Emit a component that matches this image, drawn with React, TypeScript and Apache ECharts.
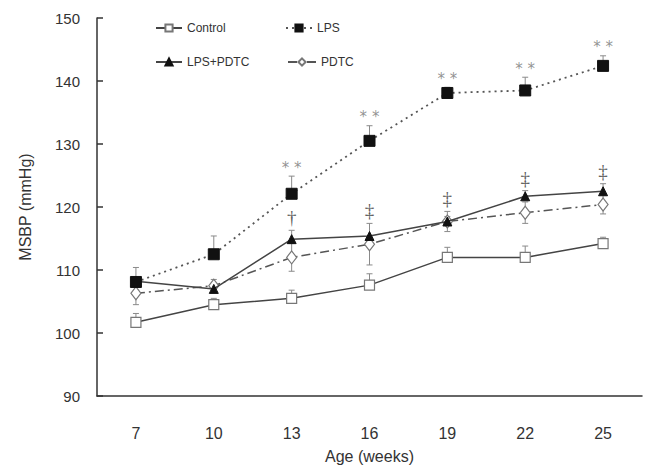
import React, { useEffect, useRef } from "react";
import * as echarts from "echarts";

const weeks = ["7", "10", "13", "16", "19", "22", "25"];
const control = [101.7, 104.5, 105.5, 107.6, 112.0, 112.0, 114.2];
const controlErrUp = [1.4, 1.0, 1.3, 1.8, 1.6, 1.8, 1.0];
const lps = [108.1, 112.5, 122.1, 130.5, 138.1, 138.5, 142.4];
const lpsErrUp = [2.3, 2.9, 2.8, 2.4, 0.9, 2.1, 1.6];
const lpsPdtc = [108.2, 107.0, 114.9, 115.4, 117.7, 121.7, 122.5];
const lpsPdtcErrUp = [0, 0.7, 1.4, 0, 0.8, 0.9, 1.2];
const pdtc = [106.3, 107.5, 112.0, 114.1, 117.7, 119.1, 120.4];
const pdtcErr = [1.8, 1.0, 2.2, 3.3, 1.6, 1.7, 1.5];
const lpsSig = ["", "", "* *", "* *", "* *", "* *", "* *"];
const pdtcSig = ["", "", "†", "‡", "‡", "‡", "‡"];
const yTicks = [90, 100, 110, 120, 130, 140, 150];

const FONT = "'Liberation Sans', Arial, sans-serif";
const LINE = "#444";
const ERR = "#8a8a8a";

function errData(vals: number[], up: number[], down: number[] | null) {
  return vals.map((v, i) => [i, v - (down ? down[i] : 0), v + up[i], v]);
}

const errRender = (params: any, api: any) => {
  const x = api.value(0);
  const lo = api.coord([x, api.value(1)]);
  const hi = api.coord([x, api.value(2)]);
  const c = api.coord([x, api.value(3)]);
  const st = { stroke: ERR, lineWidth: 1 };
  const children: any[] = [];
  if (Math.abs(hi[1] - c[1]) > 0.5) {
    children.push({ type: "line", shape: { x1: c[0], y1: c[1], x2: hi[0], y2: hi[1] }, style: st });
    children.push({ type: "line", shape: { x1: hi[0] - 3, y1: hi[1], x2: hi[0] + 3, y2: hi[1] }, style: st });
  }
  if (Math.abs(lo[1] - c[1]) > 0.5) {
    children.push({ type: "line", shape: { x1: c[0], y1: c[1], x2: lo[0], y2: lo[1] }, style: st });
    children.push({ type: "line", shape: { x1: lo[0] - 3, y1: lo[1], x2: lo[0] + 3, y2: lo[1] }, style: st });
  }
  return { type: "group", children };
};

export default function App() {
  const ref = useRef<HTMLDivElement>(null);
  useEffect(() => {
    if (!ref.current) return;
    const chart = echarts.init(ref.current, null, { renderer: "svg" });

    const lpsSigData = lps.map((v, i) => ({ value: [i, v + lpsErrUp[i]], sig: lpsSig[i] }));
    const pdtcSigData = lpsPdtc.map((v, i) => ({
      value: [i, Math.max(v + lpsPdtcErrUp[i], pdtc[i] + pdtcErr[i])],
      sig: pdtcSig[i],
    }));

    const legendBase = {
      orient: "horizontal",
      itemHeight: 9,
      textStyle: { fontFamily: FONT, fontSize: 12, color: "#333" },
      selectedMode: false,
    };

    const option: any = {
      animation: false,
      backgroundColor: "#fff",
      textStyle: { fontFamily: FONT },
      legend: [
        { ...legendBase, left: 150, top: 17, itemWidth: 26, data: ["Control"] },
        { ...legendBase, left: 280, top: 17, itemWidth: 26, data: ["LPS"] },
        { ...legendBase, left: 150, top: 51, itemWidth: 26, data: ["LPS+PDTC"] },
        { ...legendBase, left: 282, top: 51, itemWidth: 28, data: ["PDTC"] },
      ],
      grid: { left: 97, right: 12, top: 18, bottom: 71 },
      xAxis: {
        type: "category",
        data: weeks,
        boundaryGap: true,
        name: "Age (weeks)",
        nameLocation: "middle",
        nameGap: 52,
        nameTextStyle: { fontFamily: FONT, fontSize: 16, color: "#333" },
        axisLine: { lineStyle: { color: "#333", width: 1.5 } },
        axisTick: { inside: true, length: 6, lineStyle: { color: "#333", width: 1.5 } },
        axisLabel: { fontFamily: FONT, fontSize: 16, color: "#333", margin: 29 },
        splitLine: { show: false },
      },
      yAxis: {
        type: "value",
        min: yTicks[0],
        max: yTicks[yTicks.length - 1],
        interval: 10,
        name: "MSBP (mmHg)",
        nameLocation: "middle",
        nameGap: 64,
        nameTextStyle: { fontFamily: FONT, fontSize: 16, color: "#333" },
        axisLine: { show: true, lineStyle: { color: "#333", width: 1.5 } },
        axisTick: { show: true, inside: true, length: 6, lineStyle: { color: "#333", width: 1.5 } },
        axisLabel: { fontFamily: FONT, fontSize: 15, color: "#333", margin: 17 },
        splitLine: { show: false },
      },
      series: [
        { type: "custom", name: "errC", renderItem: errRender, data: errData(control, controlErrUp, null), z: 1, encode: { x: 0, y: [1, 2] }, silent: true },
        { type: "custom", name: "errL", renderItem: errRender, data: errData(lps, lpsErrUp, null), z: 1, encode: { x: 0, y: [1, 2] }, silent: true },
        { type: "custom", name: "errLP", renderItem: errRender, data: errData(lpsPdtc, lpsPdtcErrUp, null), z: 1, encode: { x: 0, y: [1, 2] }, silent: true },
        { type: "custom", name: "errP", renderItem: errRender, data: errData(pdtc, pdtcErr, pdtcErr), z: 1, encode: { x: 0, y: [1, 2] }, silent: true },
        {
          name: "Control",
          type: "line",
          data: control,
          symbol: "rect",
          symbolSize: 10,
          showAllSymbol: true,
          lineStyle: { color: LINE, width: 1.5, type: "solid" },
          itemStyle: { color: "#fff", borderColor: "#777", borderWidth: 1.2 },
          z: 3,
        },
        {
          name: "PDTC",
          type: "line",
          data: pdtc,
          symbol: "diamond",
          symbolSize: [10, 13],
          lineStyle: { color: "#555", width: 1.5, type: [9, 4, 2, 4] },
          itemStyle: { color: "#fff", borderColor: "#777", borderWidth: 1.2 },
          z: 4,
        },
        {
          name: "LPS+PDTC",
          type: "line",
          data: lpsPdtc,
          symbol: "triangle",
          symbolSize: 9,
          lineStyle: { color: LINE, width: 1.5, type: "solid" },
          itemStyle: { color: "#111", borderColor: "#111", borderWidth: 1 },
          z: 5,
        },
        {
          name: "LPS",
          type: "line",
          data: lps,
          symbol: "rect",
          symbolSize: 11,
          lineStyle: { color: "#555", width: 1.8, type: [2, 4] },
          itemStyle: { color: "#111", borderColor: "#111", borderWidth: 1 },
          z: 6,
        },
        {
          name: "sigL",
          type: "scatter",
          data: lpsSigData,
          symbolSize: 0,
          silent: true,
          label: {
            show: true,
            position: "top",
            distance: 1,
            formatter: (p: any) => p.data.sig,
            fontFamily: "'DejaVu Sans', sans-serif",
            fontSize: 15,
            color: "#777",
          },
          z: 7,
        },
        {
          name: "sigP",
          type: "scatter",
          data: pdtcSigData,
          symbolSize: 0,
          silent: true,
          label: {
            show: true,
            position: "top",
            distance: 3,
            formatter: (p: any) => p.data.sig,
            fontFamily: "'Liberation Serif', serif",
            fontSize: 19,
            color: "#333",
          },
          z: 7,
        },
      ],
    };
    chart.setOption(option);
    return () => chart.dispose();
  }, []);
  return <div ref={ref} style={{ width: 654, height: 469, position: "absolute", left: 0, top: 0 }} />;
}
